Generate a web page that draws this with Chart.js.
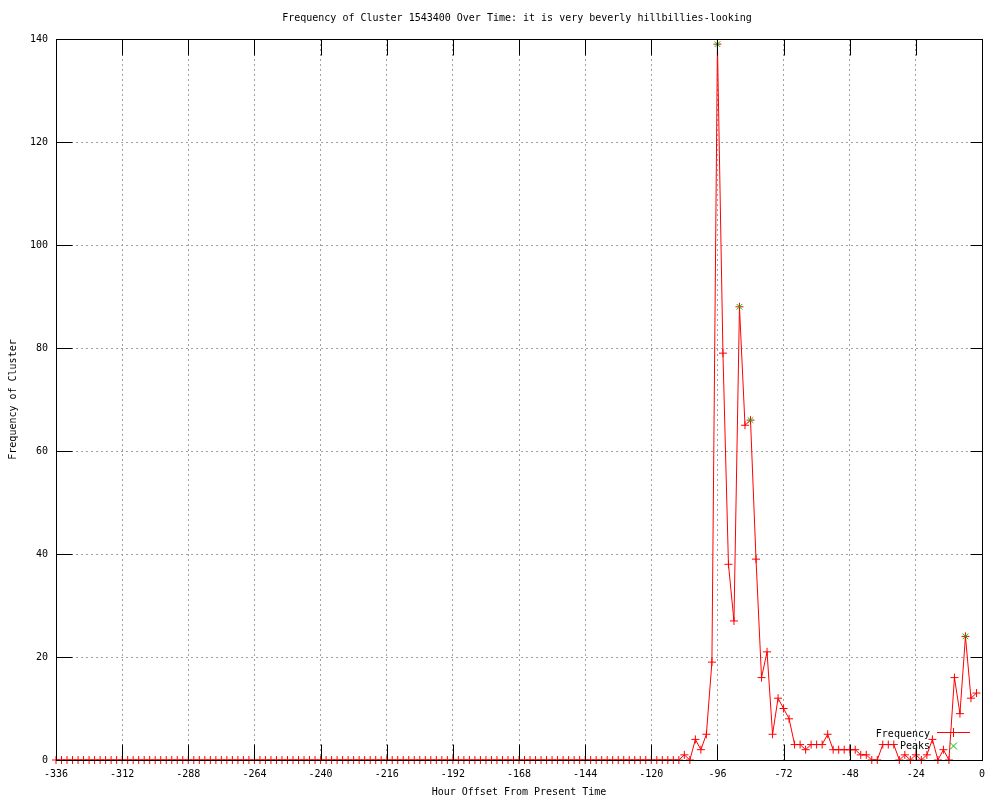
<!DOCTYPE html>
<html>
<head>
<meta charset="utf-8">
<script src="https://cdn.jsdelivr.net/npm/chart.js@4"></script>
<style>
  body { margin: 0; background: #fff; }
  #wrap { width: 1000px; height: 800px; position: relative; }
</style>
</head>
<body>
<div id="wrap"><canvas id="clusterChart"></canvas></div>
<script>
const chartTitle = 'Frequency of Cluster 1543400 Over Time: it is very beverly hillbillies-looking';

// hour offsets, one sample every 2 hours
const hours = [
  -336, -334, -332, -330, -328, -326, -324, -322, -320, -318, -316, -314, -312, -310, -308, -306,
  -304, -302, -300, -298, -296, -294, -292, -290, -288, -286, -284, -282, -280, -278, -276, -274,
  -272, -270, -268, -266, -264, -262, -260, -258, -256, -254, -252, -250, -248, -246, -244, -242,
  -240, -238, -236, -234, -232, -230, -228, -226, -224, -222, -220, -218, -216, -214, -212, -210,
  -208, -206, -204, -202, -200, -198, -196, -194, -192, -190, -188, -186, -184, -182, -180, -178,
  -176, -174, -172, -170, -168, -166, -164, -162, -160, -158, -156, -154, -152, -150, -148, -146,
  -144, -142, -140, -138, -136, -134, -132, -130, -128, -126, -124, -122, -120, -118, -116, -114,
  -112, -110, -108, -106, -104, -102, -100, -98, -96, -94, -92, -90, -88, -86, -84, -82,
  -80, -78, -76, -74, -72, -70, -68, -66, -64, -62, -60, -58, -56, -54, -52, -50,
  -48, -46, -44, -42, -40, -38, -36, -34, -32, -30, -28, -26, -24, -22, -20, -18,
  -16, -14, -12, -10, -8, -6, -4, -2
];

const frequency = [
  0, 0, 0, 0, 0, 0, 0, 0, 0, 0, 0, 0, 0, 0, 0, 0,
  0, 0, 0, 0, 0, 0, 0, 0, 0, 0, 0, 0, 0, 0, 0, 0,
  0, 0, 0, 0, 0, 0, 0, 0, 0, 0, 0, 0, 0, 0, 0, 0,
  0, 0, 0, 0, 0, 0, 0, 0, 0, 0, 0, 0, 0, 0, 0, 0,
  0, 0, 0, 0, 0, 0, 0, 0, 0, 0, 0, 0, 0, 0, 0, 0,
  0, 0, 0, 0, 0, 0, 0, 0, 0, 0, 0, 0, 0, 0, 0, 0,
  0, 0, 0, 0, 0, 0, 0, 0, 0, 0, 0, 0, 0, 0, 0, 0,
  0, 0, 1, 0, 4, 2, 5, 19, 139, 79, 38, 27, 88, 65, 66, 39,
  16, 21, 5, 12, 10, 8, 3, 3, 2, 3, 3, 3, 5, 2, 2, 2,
  2, 2, 1, 1, 0, 0, 3, 3, 3, 0, 1, 0, 1, 0, 1, 4,
  0, 2, 0, 16, 9, 24, 12, 13
];

const peakHours = [-96, -88, -84, -6];
const peakValues = [139, 88, 66, 24];

const xTicks = [-336, -312, -288, -264, -240, -216, -192, -168, -144, -120, -96, -72, -48, -24, 0];
const yTicks = [0, 20, 40, 60, 80, 100, 120, 140];

const FONT = '"DejaVu Sans Mono", "Liberation Mono", monospace';
const RED = '#ff0000';
const GREEN = '#00c000';

// frame, inward tick marks, title and legend (gnuplot look)
const gnuplotFrame = {
    id: 'gnuplotFrame',
    afterDraw(chart) {
        const c = chart.ctx;
        const a = chart.chartArea;
        const xs = chart.scales.x;
        const ys = chart.scales.y;
        const L = Math.round(a.left) + 0.5, R = Math.round(a.right) + 0.5;
        const T = Math.round(a.top) + 0.5, B = Math.round(a.bottom) + 0.5;
        c.save();
        c.strokeStyle = '#000';
        c.lineWidth = 1;
        c.beginPath();
        xTicks.forEach(v => {
            const px = Math.round(xs.getPixelForValue(v)) + 0.5;
            c.moveTo(px, B); c.lineTo(px, B - 16);
            c.moveTo(px, T); c.lineTo(px, T + 16);
        });
        yTicks.forEach(v => {
            const py = Math.round(ys.getPixelForValue(v)) + 0.5;
            c.moveTo(L, py); c.lineTo(L + 16, py);
            c.moveTo(R, py); c.lineTo(R - 12, py);
        });
        c.stroke();
        c.strokeRect(L, T, R - L, B - T);

        c.fillStyle = '#000';
        c.font = '10px ' + FONT;
        c.textAlign = 'center';
        c.textBaseline = 'middle';
        c.fillText(chartTitle, 517, 18);

        // legend
        c.textAlign = 'right';
        c.fillText('Frequency', 930, 734);
        c.fillText('Peaks', 930, 746);
        c.strokeStyle = RED;
        c.beginPath();
        c.moveTo(937, 732.5); c.lineTo(970, 732.5);
        c.moveTo(949, 732.5); c.lineTo(958, 732.5);
        c.moveTo(953.5, 728); c.lineTo(953.5, 737);
        c.stroke();
        c.strokeStyle = GREEN;
        c.beginPath();
        c.moveTo(950, 742.5); c.lineTo(957, 749.5);
        c.moveTo(957, 742.5); c.lineTo(950, 749.5);
        c.stroke();
        c.restore();
    }
};

const ctx = document.getElementById('clusterChart').getContext('2d');
const clusterChart = new Chart(ctx, {
    type: 'line',
    data: {
        datasets: [{
            label: 'Peaks',
            data: peakHours.map((h, i) => ({ x: h, y: peakValues[i] })),
            showLine: false,
            pointStyle: 'crossRot',
            pointRadius: 4,
            pointBorderWidth: 1,
            borderColor: GREEN,
            backgroundColor: GREEN,
            clip: false
        }, {
            label: 'Frequency',
            data: hours.map((h, i) => ({ x: h, y: frequency[i] })),
            borderColor: RED,
            backgroundColor: RED,
            borderWidth: 1,
            tension: 0,
            pointStyle: 'cross',
            pointRadius: 4,
            pointBorderWidth: 1,
            clip: false
        }]
    },
    options: {
        responsive: true,
        maintainAspectRatio: false,
        animation: false,
        events: [],
        layout: {
            padding: { top: 39, right: 18, left: 0, bottom: 0 }
        },
        plugins: {
            legend: { display: false },
            tooltip: { enabled: false }
        },
        scales: {
            x: {
                type: 'linear',
                min: -336,
                max: 0,
                afterFit: scale => { scale.height = 40; },
                afterBuildTicks: scale => { scale.ticks = xTicks.map(v => ({ value: v })); },
                ticks: {
                    color: '#000',
                    font: { family: FONT, size: 10 },
                    padding: 8,
                    maxRotation: 0,
                    autoSkip: false,
                    callback: v => String(v)
                },
                grid: {
                    color: '#a0a0a0',
                    drawTicks: false
                },
                border: { display: false, dash: [2, 3] },
                title: {
                    display: true,
                    text: 'Hour Offset From Present Time',
                    color: '#000',
                    font: { family: FONT, size: 10 },
                    padding: { top: 0, bottom: 2 }
                }
            },
            y: {
                min: 0,
                max: 140,
                afterFit: scale => { scale.width = 56; },
                afterBuildTicks: scale => { scale.ticks = yTicks.map(v => ({ value: v })); },
                ticks: {
                    color: '#000',
                    font: { family: FONT, size: 10 },
                    padding: 8,
                    callback: v => String(v)
                },
                grid: {
                    color: '#a0a0a0',
                    drawTicks: false
                },
                border: { display: false, dash: [2, 3] },
                title: {
                    display: true,
                    text: 'Frequency of Cluster',
                    color: '#000',
                    font: { family: FONT, size: 10 },
                    padding: { top: 7, bottom: 0 }
                }
            }
        }
    },
    plugins: [gnuplotFrame]
});
</script>
</body>
</html>
